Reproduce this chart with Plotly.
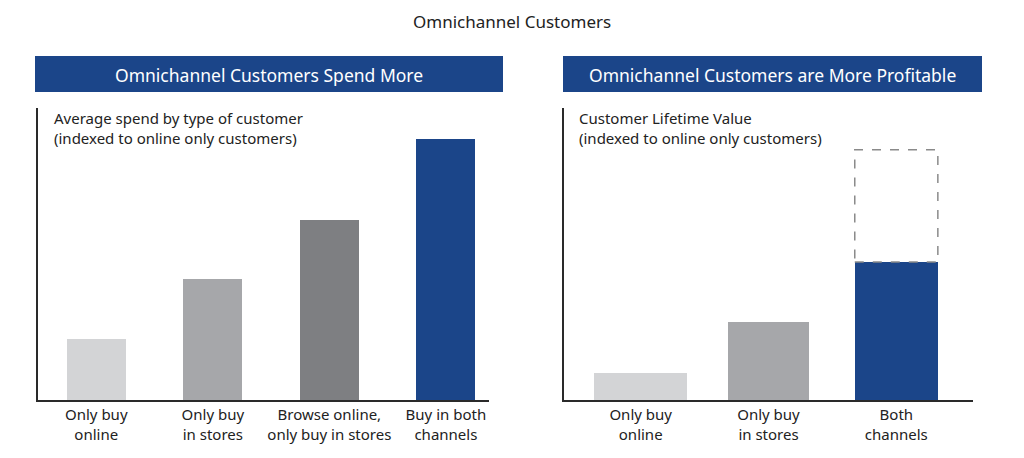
import plotly.graph_objects as go

# ---- data ----
left_categories = ["Only buy<br>online", "Only buy<br>in stores",
                   "Browse online,<br>only buy in stores", "Buy in both<br>channels"]
left_values = [100, 198, 295, 428]          # indexed to online only customers

right_categories = ["Only buy<br>online", "Only buy<br>in stores", "Both<br>channels"]
right_values = [100, 289, 511]              # customer lifetime value, indexed
right_potential = [None, None, 926]         # dashed upside for both channels

main_title = "Omnichannel Customers"
left_header = "Omnichannel Customers Spend More"
right_header = "Omnichannel Customers are More Profitable"
left_sub = "Average spend by type of customer<br>(indexed to online only customers)"
right_sub = "Customer Lifetime Value<br>(indexed to online only customers)"

# ---- style ----
BLUE = "#1b4589"
LIGHT = "#d3d4d6"
MID = "#a6a7aa"
DARK = "#7e7f82"
FONT = "Noto Sans"
W, H = 1024, 458
OFF = 8  # page body margin

left_colors = [LIGHT, MID, DARK, BLUE]
right_colors = [LIGHT, MID, BLUE]
right_widths = [0.73, 0.63, 0.65]

fig = go.Figure()
fig.add_trace(go.Bar(x=list(range(len(left_values))), y=left_values,
                     marker=dict(color=left_colors, line=dict(width=0)),
                     width=0.505, xaxis="x", yaxis="y", showlegend=False,
                     hoverinfo="skip"))
fig.add_trace(go.Bar(x=list(range(len(right_values))), y=right_values,
                     marker=dict(color=right_colors, line=dict(width=0)),
                     width=right_widths, xaxis="x2", yaxis="y2",
                     showlegend=False, hoverinfo="skip"))

# dashed potential box derived from data
for i, pv in enumerate(right_potential):
    if pv is not None:
        fig.add_shape(type="rect", xref="x2", yref="y2",
                      x0=i - right_widths[i] / 2, x1=i + right_widths[i] / 2,
                      y0=right_values[i], y1=pv,
                      line=dict(color="#8a8a8a", width=1.5, dash="dash"),
                      fillcolor="rgba(0,0,0,0)", layer="above")

def px(x):
    return (x - OFF) / W

def py(y):
    return 1 - (y - OFF) / H

axis_common = dict(showgrid=False, zeroline=False, showline=True,
                   linecolor="#2a2a2a", linewidth=2, ticks="",
                   tickfont=dict(family=FONT, size=15, color="#222"),
                   fixedrange=True)

fig.update_layout(
    width=W, height=H,
    margin=dict(l=0, r=0, t=0, b=0),
    paper_bgcolor="white", plot_bgcolor="white",
    bargap=0,
    xaxis=dict(domain=[px(38), px(489)], range=[-0.5, 3.37],
               tickmode="array", tickvals=list(range(len(left_categories))),
               ticktext=left_categories, **axis_common),
    yaxis=dict(domain=[py(400), py(108)], range=[0, 479], showticklabels=False,
               **axis_common),
    xaxis2=dict(domain=[px(564), px(973)], range=[-0.6, 2.6], anchor="y2",
                tickmode="array", tickvals=list(range(len(right_categories))),
                ticktext=right_categories, **axis_common),
    yaxis2=dict(domain=[py(400), py(108)], range=[0, 1081], anchor="x2",
                showticklabels=False, **axis_common),
    font=dict(family=FONT),
)

# header boxes
for x0, x1, text in [(35, 503, left_header), (563, 982, right_header)]:
    fig.add_shape(type="rect", xref="paper", yref="paper",
                  x0=px(x0), x1=px(x1), y0=py(92), y1=py(56),
                  fillcolor=BLUE, line=dict(width=0), layer="below")
    fig.add_annotation(xref="paper", yref="paper", x=px((x0 + x1) / 2), y=py(75),
                       text=text, showarrow=False, xanchor="center", yanchor="middle",
                       font=dict(family=FONT, size=17.5, color="white"))

# subtitles
for x, text in [(52, left_sub), (577, right_sub)]:
    fig.add_annotation(xref="paper", yref="paper", x=px(x), y=py(106),
                       text=text, showarrow=False, xanchor="left", yanchor="top",
                       align="left",
                       font=dict(family=FONT, size=15, color="#222"))

# main title
fig.add_annotation(xref="paper", yref="paper", x=px(512), y=py(22),
                   text=main_title, showarrow=False, xanchor="center", yanchor="middle",
                   font=dict(family=FONT, size=17, color="#222"))

fig.write_html("out.html")
